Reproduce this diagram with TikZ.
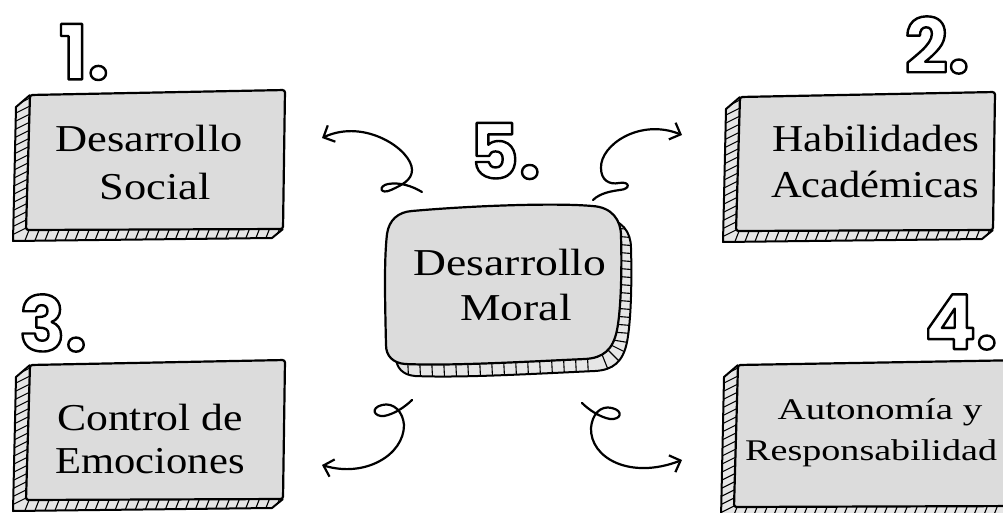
\documentclass[tikz,border=0pt]{standalone}
\usepackage{fontspec}
\setmainfont{Liberation Serif}
\newfontfamily\numfont{Poppins}
\usetikzlibrary{arrows.meta}
\definecolor{facegray}{RGB}{220,220,220}
\definecolor{sidegray}{RGB}{230,230,230}
\newcommand{\stretchtxt}[2]{\scalebox{#1}[1]{#2}}
\newcommand{\hollowtxt}[1]{\special{pdf:literal direct q 1 Tr 2.4 w 1 j}#1\special{pdf:literal direct Q}}
\tikzset{
  facepath/.style={fill=facegray, draw=black, line width=2.2pt, line join=round},
  sideline/.style={draw=black, line width=2pt, line join=round},
  hatchline/.style={draw=black, line width=1.1pt},
  lbl/.style={font=\fontsize{38}{46}\selectfont, inner sep=0pt, anchor=base},
  smalllbl/.style={font=\fontsize{30}{40}\selectfont, inner sep=0pt, anchor=base},
  numlbl/.style={font=\numfont\bfseries\fontsize{76}{76}\selectfont, text=black, inner sep=0pt},
  curlarrow/.style={draw=black, line width=2.2pt, line cap=round, line join=round,
    -{Straight Barb[length=9pt,width=18pt]}},
  pics/sketchbox/.style 2 args={code={
    \begin{scope}
      \clip (0,0) -- (-14,12) -- (-17,#2+12) -- (#1-13,#2+9) -- (#1-2,#2) -- (-4,#2+1) -- cycle;
      \fill[sidegray] (-25,-5) rectangle (#1+5,#2+20);
      \foreach \yy in {4,12,...,#2} \draw[hatchline] (-20,\yy+9) -- (2,\yy-2);
      \foreach \xx in {-6,4,...,#1} \draw[hatchline] (\xx,#2+14) -- (\xx+7,#2-4);
    \end{scope}
    \draw[sideline] (0,0) -- (-14,12) -- (-17,#2+12) -- (#1-13,#2+9) -- (#1-2,#2);
    \draw[facepath, rounded corners=2.5pt] (0,0) -- (#1,-5) -- (#1-2,#2) -- (-4,#2+1) -- cycle;
  }}
}
\begin{document}
\begin{tikzpicture}[x=1pt,y=-1pt]
\useasboundingbox (0,0) rectangle (1003,513);
\fill[white] (0,0) rectangle (1003,513);

% ---- side boxes ----
\pic (b1) at (30,95) {sketchbox={255}{134}};
\pic (b2) at (740,97) {sketchbox={255}{133}};
\pic (b3) at (30,365) {sketchbox={255}{134}};
\pic (b4) at (738,365) {sketchbox={290}{141}};

% ---- central box: extrusion ----
\begin{scope}[shift={(10,12)}]
  \begin{scope}
    \clip (412,211) .. controls (480,205) and (560,203) .. (592,206) .. controls (612,207) and (621,220) .. (621,236) .. controls (622,270) and (621,310) .. (617,330) .. controls (613,350) and (603,358) .. (585,359) .. controls (520,362) and (450,366) .. (405,364) .. controls (393,363) and (386,356) .. (386,345) .. controls (385,300) and (384,260) .. (387,234) .. controls (389,220) and (398,212) .. (412,211) -- cycle;
    \fill[sidegray] (370,195) rectangle (650,390);
    \foreach \yy in {215,223,...,325} \draw[hatchline] (590,\yy) -- (640,\yy+4);
    \foreach \xx in {385,397,...,580} \draw[hatchline] (\xx,335) -- (\xx+2,375);
    \draw[hatchline] (585,325) -- (639,334);
    \draw[hatchline] (585,325) -- (635,350);
    \draw[hatchline] (585,325) -- (624,364);
    \draw[hatchline] (585,325) -- (605,375);
  \end{scope}
  \draw[sideline] (412,211) .. controls (480,205) and (560,203) .. (592,206) .. controls (612,207) and (621,220) .. (621,236) .. controls (622,270) and (621,310) .. (617,330) .. controls (613,350) and (603,358) .. (585,359) .. controls (520,362) and (450,366) .. (405,364) .. controls (393,363) and (386,356) .. (386,345) .. controls (385,300) and (384,260) .. (387,234) .. controls (389,220) and (398,212) .. (412,211) -- cycle;
\end{scope}
% ---- central box: face ----
\draw[facepath] (412,211) .. controls (480,205) and (560,203) .. (592,206) .. controls (612,207) and (621,220) .. (621,236) .. controls (622,270) and (621,310) .. (617,330) .. controls (613,350) and (603,358) .. (585,359) .. controls (520,362) and (450,366) .. (405,364) .. controls (393,363) and (386,356) .. (386,345) .. controls (385,300) and (384,260) .. (387,234) .. controls (389,220) and (398,212) .. (412,211) -- cycle;

% ---- labels ----
\node[lbl] (t1a) at (149,152) {\stretchtxt{1.17}{Desarrollo}};
\node[lbl] (t1b) at (155,200) {\stretchtxt{1.17}{Social}};
\node[lbl] (t2a) at (876,152) {\stretchtxt{1.14}{Habilidades}};
\node[lbl] (t2b) at (875,197) {\stretchtxt{1.12}{Académicas}};
\node[lbl] (t3a) at (150,430) {\stretchtxt{1.15}{Control de}};
\node[lbl] (t3b) at (150,473) {\stretchtxt{1.12}{Emociones}};
\node[smalllbl] (t4a) at (880,419) {\stretchtxt{1.3}{Autonomía y}};
\node[smalllbl, anchor=base west] (t4b) at (745,460) {\stretchtxt{1.27}{Responsabilidad}};
\node[lbl] (t5a) at (510,275) {\stretchtxt{1.2}{Desarrollo}};
\node[lbl] (t5b) at (516,320) {\stretchtxt{1.2}{Moral}};

% ---- numbers ----
\node[numlbl] (n1) at (84,52) {\hollowtxt{1.}};
\node[numlbl] (n2) at (937,45) {\hollowtxt{2.}};
\node[numlbl] (n3) at (53,323) {\hollowtxt{3.}};
\node[numlbl] (n4) at (961,322) {\hollowtxt{4.}};
\node[numlbl] (n5) at (505,151) {\hollowtxt{5.}};

% ---- curly arrows ----
\coordinate (a1s) at (422,192); \coordinate (a1t) at (322,138);
\coordinate (a2s) at (593,200); \coordinate (a2t) at (682,135);
\coordinate (a3s) at (412,400); \coordinate (a3t) at (322,465);
\coordinate (a4s) at (582,403); \coordinate (a4t) at (682,460);

\draw[curlarrow] (a1s) .. controls (412,186) and (400,182) .. (388,184) .. controls (378,186) and (380,195) .. (391,190) .. controls (402,185) and (412,180) .. (412,170) .. controls (412,150) and (365,118) .. (a1t);
\draw[curlarrow] (a2s) .. controls (600,193) and (612,191) .. (620,190) .. controls (631,189) and (630,181) .. (619,183) .. controls (609,185) and (601,180) .. (601,168) .. controls (600,145) and (640,118) .. (a2t);
\draw[curlarrow] (a3s) .. controls (406,406) and (395,414) .. (384,416) .. controls (374,417) and (370,408) .. (382,405) .. controls (394,402) and (403,412) .. (404,425) .. controls (404,455) and (365,478) .. (a3t);
\draw[curlarrow] (a4s) .. controls (588,409) and (599,417) .. (610,419) .. controls (621,420) and (624,411) .. (612,408) .. controls (600,405) and (592,415) .. (591,428) .. controls (590,458) and (630,480) .. (a4t);
\end{tikzpicture}
\end{document}
